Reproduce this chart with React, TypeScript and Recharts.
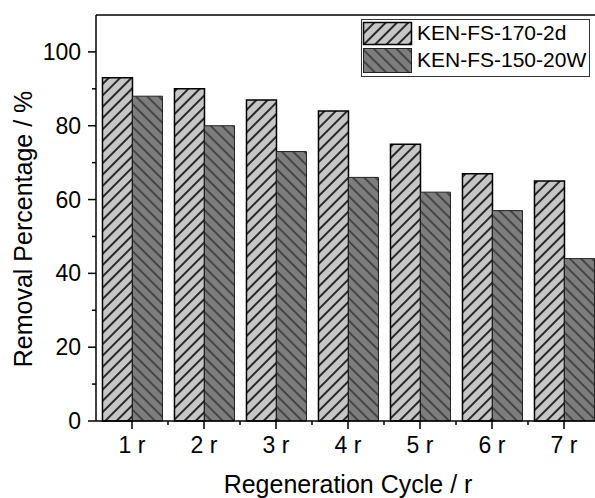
import React from 'react';
import { BarChart, Bar, XAxis, YAxis, Legend, ReferenceLine } from 'recharts';

// Removal percentage per regeneration cycle
const cycles = ['1 r', '2 r', '3 r', '4 r', '5 r', '6 r', '7 r'];
const ken170 = [93, 90, 87, 84, 75, 67, 65];
const ken150 = [88, 80, 73, 66, 62, 57, 44];
const yTicks = [0, 10, 20, 30, 40, 50, 60, 70, 80, 90, 100];
const seriesNames = ['KEN-FS-170-2d', 'KEN-FS-150-20W'];

const data = cycles.map((c, i) => ({ cycle: c, a: ken170[i], b: ken150[i] }));

const FONT = '"Liberation Sans", Arial, sans-serif';

const YTick = (props: any) => {
  const { x, y, payload } = props;
  const major = payload.value % 20 === 0;
  return (
    <g>
      <line x1={x - (major ? 8 : 4)} x2={x} y1={y} y2={y} stroke="#000" strokeWidth={1.5} />
      {major && (
        <text x={x - 15} y={y + 8} textAnchor="end" fontSize={23} fontFamily={FONT} fill="#000">
          {payload.value}
        </text>
      )}
    </g>
  );
};

const XTick = (props: any) => {
  const { x, y, payload } = props;
  const half = payload.offset || 0;
  return (
    <g>
      <line x1={x} x2={x} y1={y} y2={y + 8} stroke="#000" strokeWidth={1.5} />
      <line x1={x + half} x2={x + half} y1={y} y2={y + 4} stroke="#000" strokeWidth={1.5} />
      <text x={x} y={y + 32} textAnchor="middle" fontSize={23} fontFamily={FONT} fill="#000">
        {payload.value}
      </text>
    </g>
  );
};

const XTitle = (props: any) => {
  const { x, y, width } = props.viewBox;
  return (
    <text x={x + width / 2} y={y + 72} textAnchor="middle" fontSize={25} fontFamily={FONT} fill="#000">
      Regeneration Cycle / r
    </text>
  );
};

const YTitle = (props: any) => {
  const { y, height } = props.viewBox;
  const cx = 32;
  const cy = y + height / 2 + 11;
  return (
    <text
      x={cx}
      y={cy}
      textAnchor="middle"
      fontSize={25}
      fontFamily={FONT}
      fill="#000"
      transform={`rotate(-90, ${cx}, ${cy})`}
    >
      Removal Percentage / %
    </text>
  );
};

const LegendBox = () => (
  <svg width={229} height={58} style={{ display: 'block' }}>
    <defs>
      <pattern id="lgLight" patternUnits="userSpaceOnUse" width={8} height={8} patternTransform="rotate(45)">
        <rect width={8} height={8} fill="#c6c6c6" />
        <line x1={4} y1={0} x2={4} y2={8} stroke="#000" strokeWidth={1.6} />
      </pattern>
      <pattern id="lgDark" patternUnits="userSpaceOnUse" width={8} height={8} patternTransform="rotate(-45)">
        <rect width={8} height={8} fill="#7d7d7d" />
        <line x1={4} y1={0} x2={4} y2={8} stroke="#000" strokeWidth={0.9} />
      </pattern>
    </defs>
    <rect x={0.5} y={0.5} width={228} height={57} fill="#fff" stroke="#333" strokeWidth={1} />
    <rect x={2.5} y={3.5} width={48} height={22} fill="url(#lgLight)" stroke="#000" strokeWidth={1.5} />
    <rect x={2.5} y={29.5} width={48} height={24} fill="url(#lgDark)" stroke="#222" strokeWidth={1} />
    <text x={56} y={20.5} fontSize={21} fontFamily={FONT} fill="#000">
      {seriesNames[0]}
    </text>
    <text x={56} y={48} fontSize={21} fontFamily={FONT} fill="#000">
      {seriesNames[1]}
    </text>
  </svg>
);

export default function App() {
  return (
    <div style={{ position: 'fixed', left: 0, top: 0, width: 595, height: 498, overflow: 'hidden', background: '#fff' }}>
      <BarChart
        width={610}
        height={498}
        data={data}
        margin={{ top: 15, right: 10, left: 0, bottom: 0 }}
        barCategoryGap="9%"
        barGap={0}
      >
        <defs>
          <pattern id="hatchLight" patternUnits="userSpaceOnUse" width={8} height={8} patternTransform="rotate(45)">
            <rect width={8} height={8} fill="#c6c6c6" />
            <line x1={4} y1={0} x2={4} y2={8} stroke="#000" strokeWidth={1.6} />
          </pattern>
          <pattern id="hatchDark" patternUnits="userSpaceOnUse" width={8} height={8} patternTransform="rotate(-45)">
            <rect width={8} height={8} fill="#7d7d7d" />
            <line x1={4} y1={0} x2={4} y2={8} stroke="#000" strokeWidth={0.9} />
          </pattern>
        </defs>
        <XAxis
          dataKey="cycle"
          height={77}
          interval={0}
          tickSize={0}
          tickMargin={0}
          tickLine={false}
          axisLine={{ stroke: '#000', strokeWidth: 1.5 }}
          tick={(p: any) => <XTick {...p} />}
          label={<XTitle />}
        />
        <YAxis
          type="number"
          domain={[0, 110]}
          ticks={yTicks}
          interval={0}
          width={96}
          tickSize={0}
          tickMargin={0}
          tickLine={false}
          axisLine={{ stroke: '#000', strokeWidth: 1.5 }}
          tick={(p: any) => <YTick {...p} />}
          label={<YTitle />}
        />
        <ReferenceLine y={110} stroke="#000" strokeWidth={1.5} />
        <Bar dataKey="a" name={seriesNames[0]} fill="url(#hatchLight)" stroke="#000" strokeWidth={1.5} isAnimationActive={false} />
        <Bar dataKey="b" name={seriesNames[1]} fill="url(#hatchDark)" stroke="#222" strokeWidth={1} isAnimationActive={false} />
        <Legend
          verticalAlign="middle"
          align="center"
          wrapperStyle={{ left: 361, top: 19, width: 229, height: 58 }}
          content={() => <LegendBox />}
        />
      </BarChart>
    </div>
  );
}
